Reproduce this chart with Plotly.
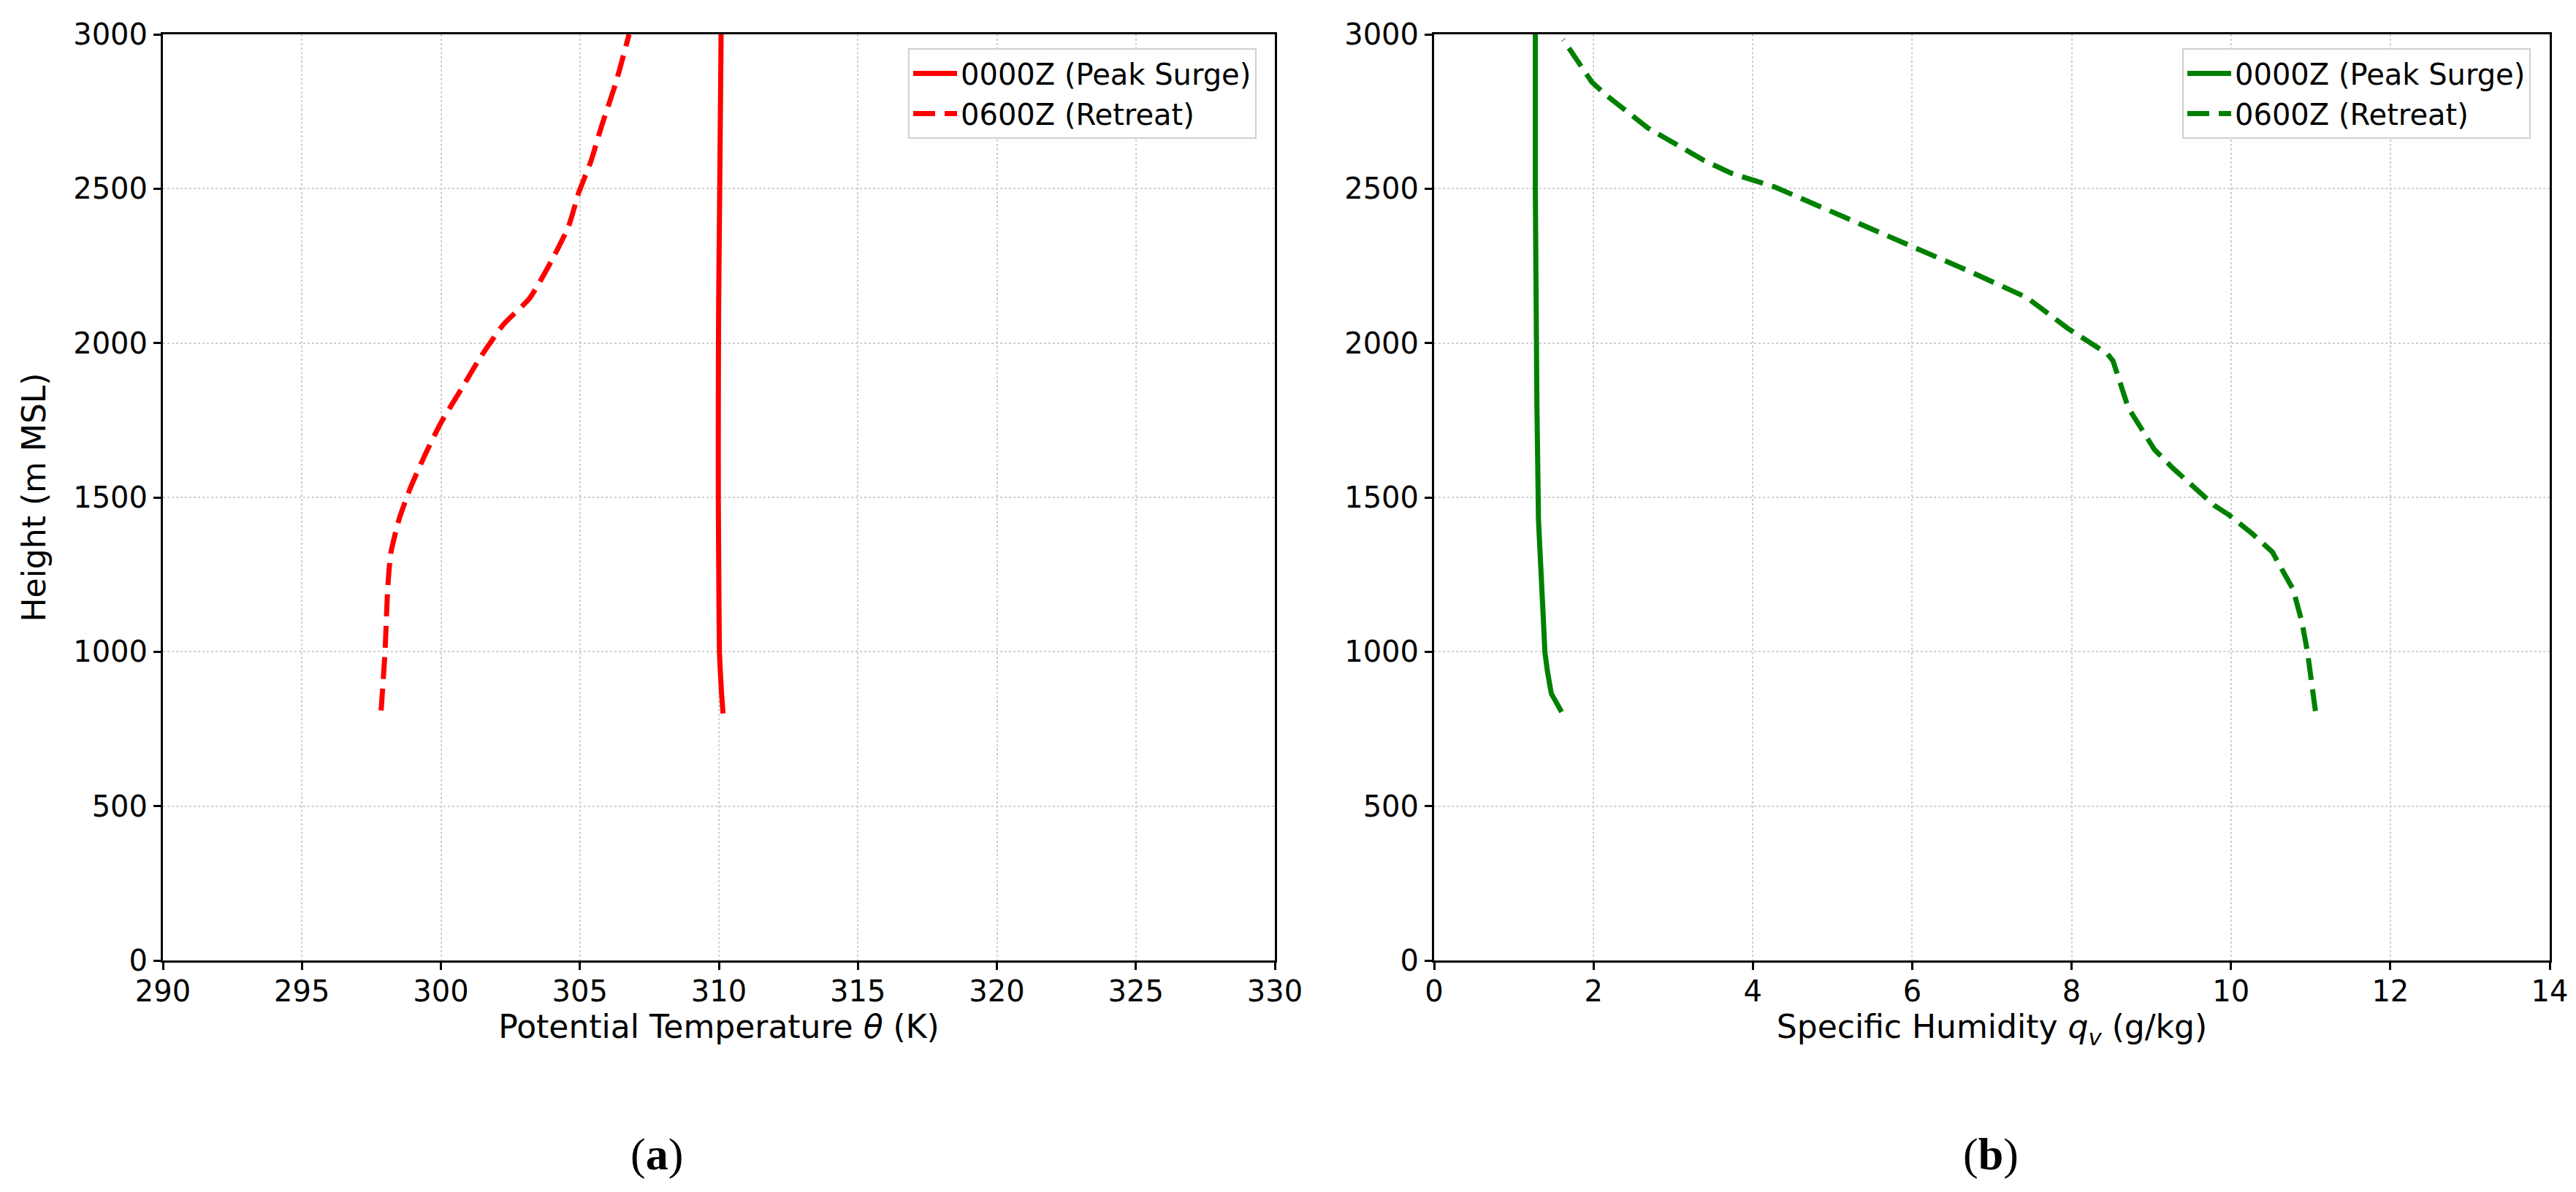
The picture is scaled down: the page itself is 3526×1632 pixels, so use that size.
import plotly.graph_objects as go

# ---------------- data ----------------
# Panel (a): potential temperature (K) vs height (m MSL)
theta_0000_h = [800, 860, 940, 1000, 1200, 1500, 1800, 2100, 2400, 2700, 3000]
theta_0000_v = [310.15, 310.10, 310.05, 310.02, 310.00, 309.98, 309.98, 309.99, 310.02, 310.05, 310.08]

theta_0600_h = [810, 1000, 1210, 1320, 1430, 1530, 1640, 1745, 1850, 1955, 2060, 2145, 2270, 2380, 2485, 2590, 2700, 2845, 3000]
theta_0600_v = [297.85, 297.99, 298.09, 298.20, 298.50, 298.90, 299.44, 300.02, 300.73, 301.43, 302.25, 303.19, 304.00, 304.60, 304.95, 305.40, 305.77, 306.30, 306.77]

# Panel (b): specific humidity (g/kg) vs height (m MSL)
qv_0000_h = [805, 865, 940, 1000, 1110, 1215, 1425, 1800, 2060, 2500, 3000]
qv_0000_v = [1.60, 1.47, 1.42, 1.39, 1.37, 1.35, 1.31, 1.29, 1.28, 1.27, 1.27]

qv_0600_h = [808, 1000, 1097, 1202, 1248, 1323, 1384, 1444, 1474, 1595, 1655, 1791, 1942, 1965, 2048, 2147, 2231, 2316, 2422, 2506, 2549, 2591, 2697, 2803, 2845, 2983]
qv_0600_v = [11.06, 10.96, 10.89, 10.78, 10.68, 10.52, 10.26, 9.97, 9.79, 9.27, 9.04, 8.71, 8.52, 8.45, 7.95, 7.44, 6.73, 5.97, 5.03, 4.27, 3.74, 3.39, 2.68, 2.16, 1.98, 1.62]

legend_names = ["0000Z (Peak Surge)", "0600Z (Retreat)"]
x_title_a = "Potential Temperature <i>θ</i> (K)"
x_title_b = "Specific Humidity <i>q</i><sub><i>v</i></sub> (g/kg)"
y_title = "Height (m MSL)"
panel_labels = ["(<b>a</b>)", "(<b>b</b>)"]

# ---------------- styles ----------------
FONT = "DejaVu Sans"
RED = "#ff0000"
GREEN = "#008000"
LW = 7
DASH = "30px,13px"

fig = go.Figure()

fig.add_trace(go.Scatter(x=theta_0000_v, y=theta_0000_h, mode="lines", name=legend_names[0],
                         line=dict(color=RED, width=LW, shape="spline", smoothing=0.6),
                         xaxis="x", yaxis="y", legend="legend"))
fig.add_trace(go.Scatter(x=theta_0600_v, y=theta_0600_h, mode="lines", name=legend_names[1],
                         line=dict(color=RED, width=LW, dash=DASH, shape="spline", smoothing=0.6),
                         xaxis="x", yaxis="y", legend="legend"))
fig.add_trace(go.Scatter(x=qv_0000_v, y=qv_0000_h, mode="lines", name=legend_names[0],
                         line=dict(color=GREEN, width=LW),
                         xaxis="x2", yaxis="y2", legend="legend2"))
fig.add_trace(go.Scatter(x=qv_0600_v, y=qv_0600_h, mode="lines", name=legend_names[1],
                         line=dict(color=GREEN, width=LW, dash=DASH),
                         xaxis="x2", yaxis="y2", legend="legend2"))

W, H = 3526, 1632
axis_common = dict(
    showline=True, mirror=True, linecolor="black", linewidth=3,
    ticks="outside", ticklen=10, tickwidth=3, tickcolor="black",
    showgrid=True, gridcolor="#cfcfcf", gridwidth=2, griddash="dot",
    zeroline=False, automargin=False,
    tickfont=dict(family=FONT, size=40, color="black"),
    title_font=dict(family=FONT, size=44, color="black"),
)

ytop = 1 - 47 / H
ybot = 1 - 1315 / H

fig.update_layout(
    width=W, height=H,
    margin=dict(l=0, r=0, t=0, b=0, autoexpand=False),
    paper_bgcolor="white", plot_bgcolor="white",
    font=dict(family=FONT, color="black"),
    xaxis=dict(domain=[223 / W, 1745 / W], range=[290, 330], dtick=5, anchor="y",
               ticklabelstandoff=-5,
               title=dict(text=x_title_a, standoff=12), **axis_common),
    yaxis=dict(domain=[ybot, ytop], range=[0, 3000], dtick=500, anchor="x",
               title=dict(text=y_title, standoff=24), **axis_common),
    xaxis2=dict(domain=[1963 / W, 3490 / W], range=[0, 14], dtick=2, anchor="y2",
                ticklabelstandoff=-5,
                title=dict(text=x_title_b, standoff=12), **axis_common),
    yaxis2=dict(domain=[ybot, ytop], range=[0, 3000], dtick=500, anchor="x2", **axis_common),
    legend=dict(x=1720 / W, y=1 - 66 / H, xanchor="right", yanchor="top",
                bgcolor="white", bordercolor="#d0d0d0", borderwidth=2,
                font=dict(family=FONT, size=40, color="black"),
                itemwidth=60, tracegroupgap=0),
    legend2=dict(x=3464 / W, y=1 - 66 / H, xanchor="right", yanchor="top",
                 bgcolor="white", bordercolor="#d0d0d0", borderwidth=2,
                 font=dict(family=FONT, size=40, color="black"),
                 itemwidth=60, tracegroupgap=0),
    annotations=[
        dict(text=panel_labels[0], x=899 / W, y=1 - 1580 / H, xref="paper", yref="paper",
             xanchor="center", yanchor="middle",
             showarrow=False, font=dict(family="Liberation Serif", size=62, color="black")),
        dict(text=panel_labels[1], x=2725 / W, y=1 - 1580 / H, xref="paper", yref="paper",
             xanchor="center", yanchor="middle",
             showarrow=False, font=dict(family="Liberation Serif", size=62, color="black")),
    ],
)

fig.write_html("out.html")
